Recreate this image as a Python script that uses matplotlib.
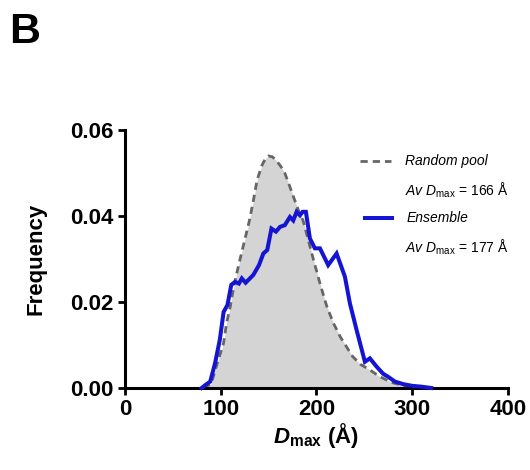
import matplotlib
matplotlib.use("Agg")
import matplotlib.pyplot as plt
from matplotlib.lines import Line2D

plt.rcParams["font.family"] = ["Liberation Sans", "DejaVu Sans"]
plt.rcParams["mathtext.fontset"] = "custom"
plt.rcParams["mathtext.rm"] = "Liberation Sans"
plt.rcParams["mathtext.it"] = "Liberation Sans:italic"
plt.rcParams["mathtext.bf"] = "Liberation Sans:bold"
plt.rcParams["mathtext.bfit"] = "Liberation Sans:italic:bold"

# Random pool Dmax distribution
pool_dmax = [82, 90, 97, 103, 106, 110, 113, 116, 120, 125, 130, 134, 138, 143, 147,
             150, 154, 158, 163, 167, 172, 176, 181, 186, 190, 197, 204, 211, 218,
             225, 232, 238, 246, 256, 265, 273, 280, 287, 295]
pool_freq = [0.0, 0.001, 0.0062, 0.0105, 0.015, 0.019, 0.0228, 0.026, 0.0298, 0.0344,
             0.039, 0.0435, 0.0484, 0.0518, 0.0535, 0.054, 0.0538, 0.053, 0.0515,
             0.050, 0.047, 0.0445, 0.0415, 0.039, 0.0357, 0.0298, 0.0241, 0.0189,
             0.0150, 0.0119, 0.0094, 0.0073, 0.0055, 0.0042, 0.0028, 0.0019, 0.0012,
             0.0008, 0.0002]

# Selected ensemble Dmax distribution
ens_dmax = [80, 84, 89, 94, 99, 103, 107, 111, 115, 119, 122, 126, 134, 140, 144.5,
            148.6, 153, 157.7, 162, 167, 172.3, 175.8, 179.3, 182.8, 185.6, 189,
            193.2, 198.4, 203.7, 212.3, 221.1, 229.8, 235, 242, 250.7, 255.9, 262.8,
            269.8, 275, 282, 290.7, 300, 310, 320]
ens_freq = [0.0, 0.0007, 0.0015, 0.0057, 0.0112, 0.0177, 0.0193, 0.024, 0.0247,
            0.0243, 0.0255, 0.0245, 0.0263, 0.0286, 0.0313, 0.0321, 0.0371, 0.0364,
            0.0375, 0.0379, 0.0398, 0.039, 0.041, 0.0402, 0.041, 0.041, 0.0348,
            0.0325, 0.0325, 0.0286, 0.0313, 0.0259, 0.0197, 0.0135, 0.0061, 0.0069,
            0.005, 0.0033, 0.0026, 0.0015, 0.0009, 0.0005, 0.0003, 0.0]

x_ticks = [0, 100, 200, 300, 400]
y_ticks = [0.00, 0.02, 0.04, 0.06]

fig = plt.figure(figsize=(5.3, 4.7), dpi=100)
ax = fig.add_axes([0.236, 0.1745, 0.722, 0.5485])

grey_line = "#666666"
blue = "#1414d2"

ax.fill_between(pool_dmax, pool_freq, 0, color="#d4d4d4", lw=0, zorder=1)
pool_line, = ax.plot(pool_dmax, pool_freq, color=grey_line, lw=2.0, zorder=2)
pool_line.set_dashes([2.6, 1.8])
ax.plot(ens_dmax, ens_freq, color=blue, lw=2.9, zorder=3, clip_on=False,
        solid_joinstyle="miter")

ax.set_xlim(0, 400)
ax.set_ylim(0, 0.06)
ax.set_xticks(x_ticks)
ax.set_yticks(y_ticks)
ax.set_xticklabels([str(v) for v in x_ticks])
ax.set_yticklabels([f"{v:.2f}" for v in y_ticks])

for side in ("top", "right"):
    ax.spines[side].set_visible(False)
for side in ("left", "bottom"):
    ax.spines[side].set_linewidth(2.2)
ax.tick_params(axis="both", which="major", direction="out", length=5, width=2.0,
               labelsize=16, pad=3)
for lab in ax.get_xticklabels() + ax.get_yticklabels():
    lab.set_fontweight("bold")

ax.set_ylabel("Frequency", fontsize=16, fontweight="bold", labelpad=17)
ax.set_xlabel(r"$\mathbfit{D}_{\mathbf{max}}$ (Å)", fontsize=16, fontweight="bold",
              labelpad=1)

fig.text(0.018, 0.932, "B", fontsize=31, fontweight="bold", ha="left", va="center")

# Legend block
def fy(py):
    return 1 - py / 470

def fx(px):
    return px / 530

leg_dash = Line2D([fx(360), fx(391)], [fy(161), fy(161)], transform=fig.transFigure,
                  color=grey_line, lw=2.0)
leg_dash.set_dashes([2.6, 1.8])
fig.add_artist(leg_dash)
fig.add_artist(Line2D([fx(365), fx(392)], [fy(218), fy(218)],
                      transform=fig.transFigure, color=blue, lw=2.9))

fs = 10
fig.text(fx(405), fy(161), "Random pool", fontsize=fs, style="italic", va="center")
fig.text(fx(405), fy(190), r"$\mathit{Av\ D}_{\mathrm{max}}$ = 166 Å", fontsize=fs,
         va="center")
fig.text(fx(407), fy(218), "Ensemble", fontsize=fs, style="italic", va="center")
fig.text(fx(405), fy(247), r"$\mathit{Av\ D}_{\mathrm{max}}$ = 177 Å", fontsize=fs,
         va="center")

fig.savefig("out.png", dpi=100)
